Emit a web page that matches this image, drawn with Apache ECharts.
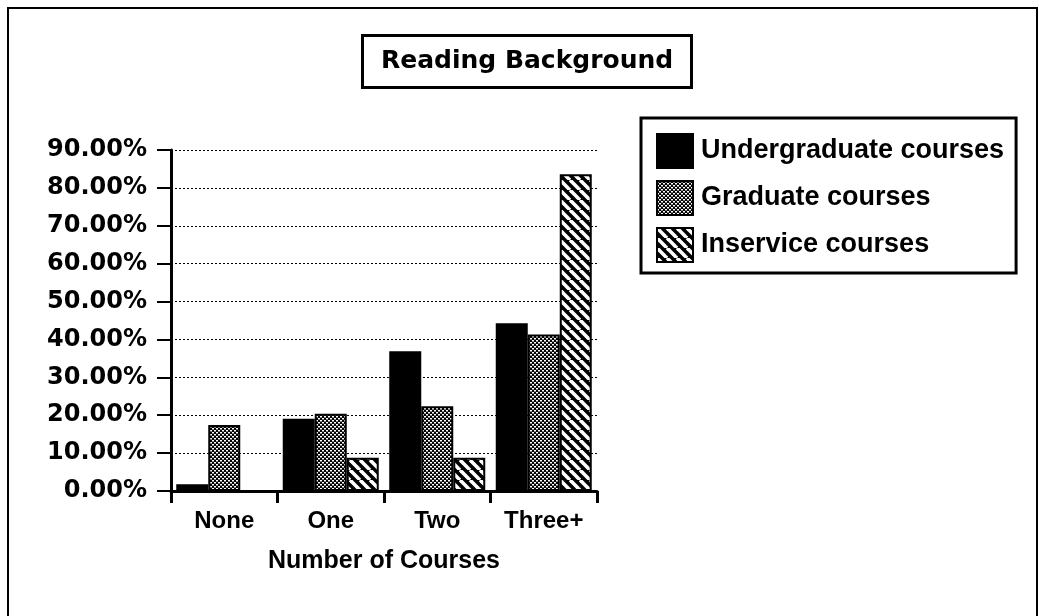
<!DOCTYPE html>
<html>
<head>
<meta charset="utf-8">
<script src="https://cdn.jsdelivr.net/npm/echarts@6/dist/echarts.min.js"></script>
<style>
html,body{margin:0;padding:0;background:#fff;}
#chart{width:1039px;height:616px;}
</style>
</head>
<body>
<div id="chart"></div>
<script>
// ---- data ----
const categories = ['None', 'One', 'Two', 'Three+'];
const seriesNames = ['Undergraduate courses', 'Graduate courses', 'Inservice courses'];
const undergraduate = [1.8, 19.1, 36.9, 44.3];
const graduate = [17.4, 20.4, 22.4, 41.3];
const inservice = [0, 8.8, 8.8, 83.6];
const yMin = 0, yMax = 90, yInterval = 10;
const titleText = 'Reading Background';
const xAxisName = 'Number of Courses';

// ---- patterns ----
function dotPattern() {
  const c = document.createElement('canvas');
  c.width = 4; c.height = 4;
  const g = c.getContext('2d');
  g.fillStyle = '#000'; g.fillRect(0, 0, 4, 4);
  g.fillStyle = '#fff';
  g.fillRect(0, 0, 2, 1.5);
  g.fillRect(2, 2, 2, 1.5);
  return { image: c, repeat: 'repeat' };
}
function hatchPattern() {
  const P = 10;
  const c = document.createElement('canvas');
  c.width = P; c.height = P;
  const g = c.getContext('2d');
  g.fillStyle = '#000'; g.fillRect(0, 0, P, P);
  g.strokeStyle = '#fff'; g.lineWidth = 3.6;
  for (const o of [-P, 0, P]) {
    g.beginPath(); g.moveTo(o, 0); g.lineTo(o + P, P); g.stroke();
  }
  return { image: c, repeat: 'repeat' };
}

const fills = ['#000', dotPattern(), hatchPattern()];
const dataSets = [undergraduate, graduate, inservice];

const chart = echarts.init(document.getElementById('chart'), null, { renderer: 'canvas' });
const labelFont = 'Liberation Sans';
chart.setOption({
  backgroundColor: '#fff',
  animation: false,
  title: {
    text: titleText,
    left: 362, top: 35,
    padding: [12, 19, 13, 19],
    borderColor: '#000', borderWidth: 3,
    textStyle: { fontFamily: 'DejaVu Sans', fontWeight: 'bold', fontSize: 25, color: '#000', lineHeight: 28 }
  },
  legend: {
    orient: 'vertical',
    left: 641, top: 118,
    padding: [15, 12, 10, 15],
    itemWidth: 36, itemHeight: 34, itemGap: 11,
    icon: 'rect',
    borderColor: '#000', borderWidth: 3,
    data: seriesNames,
    textStyle: { fontFamily: labelFont, fontWeight: 'bold', fontSize: 27, color: '#000', padding: [0, 0, 0, 3] }
  },
  grid: { left: 171, top: 150, width: 426, height: 341, containLabel: false },
  xAxis: {
    type: 'category',
    data: categories,
    boundaryGap: true,
    name: xAxisName,
    nameLocation: 'middle',
    nameGap: 58,
    nameTextStyle: { fontFamily: labelFont, fontWeight: 'bold', fontSize: 25, color: '#000' },
    axisLine: { lineStyle: { color: '#000', width: 3 } },
    axisTick: { show: true, length: 12, lineStyle: { color: '#000', width: 3 } },
    axisLabel: { margin: 18, fontFamily: labelFont, fontWeight: 'bold', fontSize: 24, color: '#000' },
    splitLine: { show: false }
  },
  yAxis: {
    type: 'value',
    min: yMin, max: yMax, interval: yInterval,
    axisLine: { show: true, lineStyle: { color: '#000', width: 3 } },
    axisTick: { show: true, length: 14, lineStyle: { color: '#000', width: 2 } },
    axisLabel: {
      margin: 24,
      fontFamily: 'DejaVu Sans', fontWeight: 'bold', fontSize: 24, color: '#000',
      formatter: v => v.toFixed(2) + '%'
    },
    splitLine: { show: true, lineStyle: { color: '#000', width: 1, type: [2, 2] } }
  },
  series: seriesNames.map((name, i) => ({
    name: name,
    type: 'bar',
    data: dataSets[i],
    barWidth: 32,
    barGap: '0%',
    itemStyle: { color: fills[i], borderColor: '#000', borderWidth: 2 },
    emphasis: { disabled: true }
  })),
  graphic: [{
    type: 'rect',
    z: -1,
    shape: { x: 8, y: 8, width: 1029, height: 640 },
    style: { fill: 'none', stroke: '#000', lineWidth: 2 }
  }]
});
</script>
</body>
</html>
